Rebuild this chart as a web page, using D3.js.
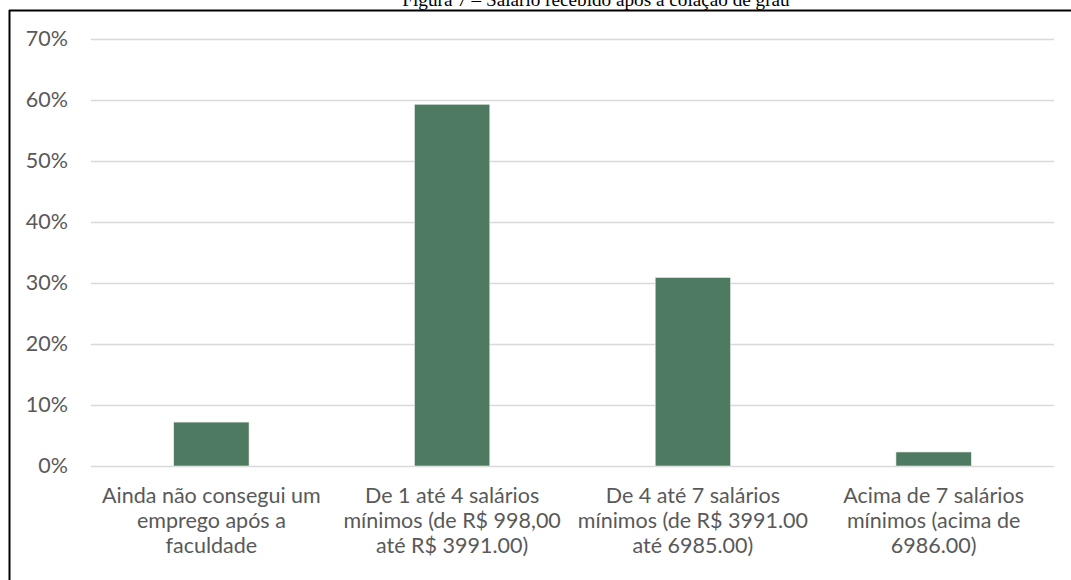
<!DOCTYPE html>
<html><head><meta charset="utf-8">
<script src="https://cdn.jsdelivr.net/npm/d3@7"></script>
<style>html,body{margin:0;padding:0;background:#fff;overflow:hidden}</style>
</head><body>
<svg id="chart" width="1071" height="580"></svg>
<script>
const title = "Figura 7 – Salário recebido após a colação de grau";
const categories = ["Ainda não consegui um emprego após a faculdade","De 1 até 4 salários mínimos (de R$ 998,00 até R$ 3991.00)","De 4 até 7 salários mínimos (de R$ 3991.00 até 6985.00)","Acima de 7 salários mínimos (acima de 6986.00)"];
const categoryLines = [
  ["Ainda não consegui um","emprego após a","faculdade"],
  ["De 1 até 4 salários","mínimos (de R$ 998,00","até R$ 3991.00)"],
  ["De 4 até 7 salários","mínimos (de R$ 3991.00","até 6985.00)"],
  ["Acima de 7 salários","mínimos (acima de","6986.00)"]
];
const values = [0.072, 0.593, 0.309, 0.023];
const yTicks = [0, 0.1, 0.2, 0.3, 0.4, 0.5, 0.6, 0.7];

const svg = d3.select("#chart");
const W = 1071, H = 580;
const m = {left: 91, right: 17, top: 39, bottom: 114};
const x = d3.scaleBand().domain(categories).range([m.left, W - m.right]).paddingInner(0.687).paddingOuter(0.3435);
const y = d3.scaleLinear().domain([0, 0.7]).range([H - m.bottom, m.top]);
const font = "Lato, sans-serif";
const fs = 21.5;

// frame
svg.append("line").attr("x1", 9).attr("x2", W).attr("y1", 10.5).attr("y2", 10.5).attr("stroke", "#000").attr("stroke-width", 2);
svg.append("line").attr("x1", 9.5).attr("x2", 9.5).attr("y1", 10).attr("y2", H).attr("stroke", "#000").attr("stroke-width", 2);

// title
svg.append("text").attr("x", 596).attr("y", 6).attr("text-anchor", "middle")
  .attr("font-family", "'Liberation Serif', 'Times New Roman', serif").attr("font-size", 19.2).attr("fill", "#000").text(title);

// grid
const yAxis = d3.axisLeft(y).tickValues(yTicks).tickFormat(d3.format(".0%")).tickSize(-(W - m.left - m.right)).tickPadding(23);
const gy = svg.append("g").attr("transform", `translate(${m.left},0)`).call(yAxis);
gy.select(".domain").remove();
gy.selectAll(".tick line").attr("stroke", "#d9d9d9").attr("stroke-width", 1.5);
gy.selectAll(".tick text").attr("fill", "#595959").attr("font-family", font).attr("font-size", fs);

// bars
svg.append("g").selectAll("rect").data(values).join("rect")
  .attr("x", (d, i) => x(categories[i])).attr("width", x.bandwidth())
  .attr("y", d => y(d)).attr("height", d => y(0) - y(d))
  .attr("fill", "#4f7a62").attr("stroke", "#e8eee9").attr("stroke-width", 0.6);

// x labels
const xAxis = d3.axisBottom(x).tickSize(0).tickFormat("");
const gx = svg.append("g").attr("transform", `translate(0,${y(0)})`).call(xAxis);
gx.select(".domain").remove();
gx.selectAll(".tick").each(function(d, i) {
  const t = d3.select(this).append("text").attr("fill", "#595959").attr("font-family", font)
    .attr("font-size", fs).attr("text-anchor", "middle");
  categoryLines[i].forEach((ln, j) => t.append("tspan").attr("x", 0).attr("y", 37 + j * 25).text(ln));
});
</script>
</body></html>
